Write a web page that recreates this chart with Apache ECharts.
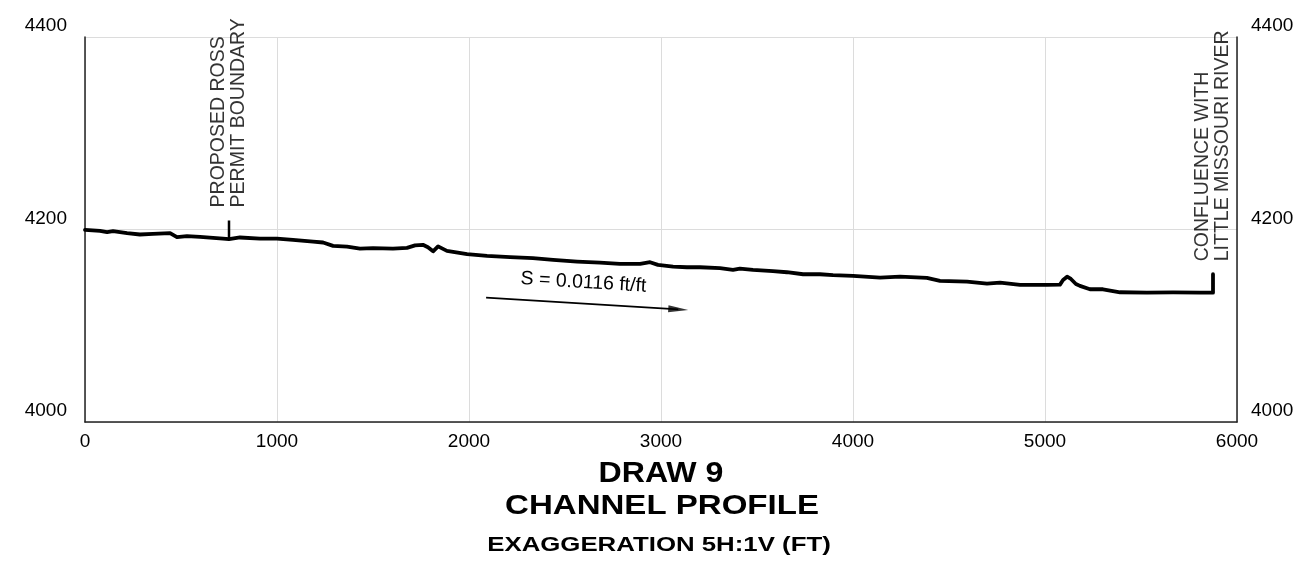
<!DOCTYPE html>
<html>
<head>
<meta charset="utf-8">
<script src="https://cdn.jsdelivr.net/npm/echarts@6/dist/echarts.min.js"></script>
<style>
html,body{margin:0;padding:0;background:#fff;}
#chart{width:1307px;height:571px;}
</style>
</head>
<body>
<div id="chart"></div>
<script>
// Distance along channel (ft)
const profileX = [0, 78, 115, 146, 219, 286, 354, 443, 479, 531, 599, 667, 719, 750, 807, 911, 1000, 1083, 1188, 1240, 1292, 1365, 1432, 1500, 1604, 1677, 1719, 1760, 1786, 1813, 1839, 1885, 1990, 2094, 2214, 2333, 2438, 2563, 2682, 2786, 2891, 2943, 2984, 3063, 3135, 3203, 3307, 3375, 3411, 3479, 3583, 3656, 3740, 3828, 3896, 4000, 4141, 4245, 4385, 4453, 4594, 4698, 4766, 4870, 5010, 5078, 5094, 5115, 5135, 5161, 5182, 5234, 5302, 5391, 5531, 5667, 5807, 5875];
// Channel bed elevation (ft)
const profileY = [4199.7, 4198.6, 4197.3, 4198.3, 4196.3, 4194.8, 4195.5, 4196.3, 4192.1, 4193.1, 4192.4, 4191.4, 4190.6, 4190.0, 4191.7, 4190.6, 4190.6, 4189.3, 4187.5, 4186.5, 4183.0, 4182.3, 4180.2, 4180.6, 4180.2, 4180.9, 4183.5, 4184.1, 4181.5, 4177.3, 4182.5, 4177.8, 4174.4, 4172.6, 4171.3, 4170.2, 4168.4, 4166.7, 4165.6, 4164.3, 4164.3, 4166.0, 4163.2, 4161.5, 4160.8, 4160.8, 4159.8, 4158.0, 4159.4, 4158.0, 4156.7, 4155.6, 4153.5, 4153.5, 4152.5, 4151.8, 4150.0, 4151.0, 4149.7, 4146.6, 4145.8, 4143.8, 4144.8, 4142.4, 4142.4, 4142.7, 4147.6, 4151.0, 4148.6, 4143.4, 4141.4, 4137.9, 4137.9, 4134.8, 4134.4, 4134.6, 4134.4, 4134.4];

// Annotation markers
const markerX = [750, 5875];
const markerBase = [4190.0, 4134.4];
const markerTop = [4209.4, 4153.5];
const markerLabels = ['PROPOSED ROSS\nPERMIT BOUNDARY', 'CONFLUENCE WITH\nLITTLE MISSOURI RIVER'];

// Slope arrow
const slopeStart = [2089, 4129.2];
const slopeEnd = [3090, 4117.0];
const slopeLabel = 'S = 0.0116 ft/ft';

// Axis ticks
const xTicks = [0, 1000, 2000, 3000, 4000, 5000, 6000];
const yTicks = [4000, 4200, 4400];

const titleLines = ['DRAW 9', 'CHANNEL PROFILE', 'EXAGGERATION 5H:1V (FT)'];

const FONT = '"Liberation Sans", Arial, Helvetica, sans-serif';

const chart = echarts.init(document.getElementById('chart'), null, {renderer: 'canvas'});

const profileData = profileX.map((x, i) => [x, profileY[i]]);
// Close the profile with the vertical end marker at the confluence
profileData.push([markerX[1], markerTop[1]]);

const plain = v => String(v);

const yAxisCommon = {
  type: 'value',
  min: yTicks[0],
  max: yTicks[yTicks.length - 1],
  interval: yTicks[1] - yTicks[0],
  axisLine: {show: true, lineStyle: {color: '#222', width: 1.5}},
  axisTick: {show: false},
};

const option = {
  backgroundColor: '#ffffff',
  animation: false,
  grid: {left: 85, right: 70, top: 37, bottom: 149, containLabel: false},
  xAxis: {
    type: 'value',
    min: xTicks[0],
    max: xTicks[xTicks.length - 1],
    interval: xTicks[1] - xTicks[0],
    axisLine: {show: true, onZero: false, lineStyle: {color: '#222', width: 1.5}},
    axisTick: {show: false},
    axisLabel: {fontFamily: FONT, fontSize: 19, color: '#000', margin: 10, formatter: plain},
    splitLine: {show: true, lineStyle: {color: '#dcdcdc', width: 1}}
  },
  yAxis: [
    Object.assign({}, yAxisCommon, {
      position: 'left',
      axisLabel: {fontFamily: FONT, fontSize: 19, color: '#000', margin: 18, verticalAlign: 'bottom', lineHeight: 22, formatter: plain},
      splitLine: {show: true, lineStyle: {color: '#dcdcdc', width: 1}}
    }),
    Object.assign({}, yAxisCommon, {
      position: 'right',
      axisLabel: {fontFamily: FONT, fontSize: 19, color: '#000', margin: 14, verticalAlign: 'bottom', lineHeight: 22, formatter: plain},
      splitLine: {show: false}
    })
  ],
  series: [
    {
      name: 'Profile',
      type: 'line',
      data: profileData,
      showSymbol: false,
      symbol: 'none',
      lineStyle: {color: '#000', width: 3.8, join: 'round', cap: 'round'},
      z: 5
    },
    {
      name: 'Boundary tick',
      type: 'line',
      data: [[markerX[0], markerBase[0]], [markerX[0], markerTop[0]]],
      symbol: 'none',
      lineStyle: {color: '#000', width: 2.5},
      z: 5
    },
    {
      name: 'Slope arrow',
      type: 'scatter',
      data: [slopeEnd],
      symbol: 'triangle',
      symbolSize: [7, 20],
      symbolRotate: -93.5,
      itemStyle: {color: '#000'},
      z: 6,
      markLine: {
        silent: true,
        symbol: ['none', 'none'],
        lineStyle: {color: '#000', width: 1.8, type: 'solid'},
        label: {
          show: true,
          position: 'insideMiddleTop',
          formatter: slopeLabel,
          fontFamily: FONT,
          fontSize: 19.5,
          color: '#000',
          distance: 11
        },
        data: [[{coord: slopeStart}, {coord: slopeEnd}]]
      }
    },
    {
      name: 'Annotations',
      type: 'scatter',
      symbolSize: 0,
      data: markerX.map((x, i) => ({
        value: [x, markerTop[i]],
        label: {formatter: markerLabels[i]}
      })),
      label: {
        show: true,
        position: 'top',
        distance: 13,
        rotate: 90,
        align: 'left',
        verticalAlign: 'middle',
        fontFamily: FONT,
        fontSize: 19.5,
        lineHeight: 20,
        color: '#000'
      },
      z: 6
    }
  ],
  graphic: [
    {type: 'text', x: 661, y: 474, scaleX: 1.07,
     style: {text: titleLines[0], fontFamily: FONT, fontSize: 30, fontWeight: 'bold', fill: '#000', textAlign: 'center', textVerticalAlign: 'middle', align: 'center', verticalAlign: 'middle'}},
    {type: 'text', x: 662, y: 506, scaleX: 1.18,
     style: {text: titleLines[1], fontFamily: FONT, fontSize: 28, fontWeight: 'bold', fill: '#000', textAlign: 'center', textVerticalAlign: 'middle', align: 'center', verticalAlign: 'middle'}},
    {type: 'text', x: 659, y: 545, scaleX: 1.29,
     style: {text: titleLines[2], fontFamily: FONT, fontSize: 20, fontWeight: 'bold', fill: '#000', textAlign: 'center', textVerticalAlign: 'middle', align: 'center', verticalAlign: 'middle'}}
  ]
};

chart.setOption(option);
</script>
</body>
</html>
